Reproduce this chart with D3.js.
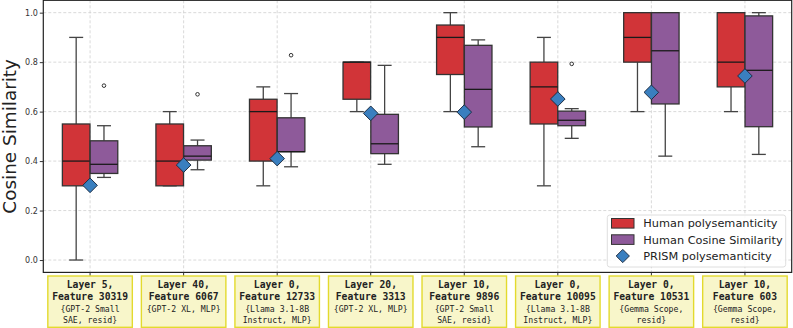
<!DOCTYPE html>
<html><head><meta charset="utf-8">
<script src="https://cdn.jsdelivr.net/npm/d3@7"></script>
<style>body{margin:0;background:#fff}svg{display:block}</style>
</head><body>
<svg id="c" width="793" height="328"></svg>
<script>
const line1 = ["Layer 5,","Layer 40,","Layer 0,","Layer 20,","Layer 10,","Layer 0,","Layer 0,","Layer 10,"];
const line2 = ["Feature 30319","Feature 6067","Feature 12733","Feature 3313","Feature 9896","Feature 10095","Feature 10531","Feature 603"];
const line3 = ["{GPT-2 Small","{GPT-2 XL, MLP}","{Llama 3.1-8B","{GPT-2 XL, MLP}","{GPT-2 Small","{Llama 3.1-8B","{Gemma Scope,","{Gemma Scope,"];
const line4 = ["SAE, resid}","","Instruct, MLP}","","SAE, resid}","Instruct, MLP}","resid}","resid}"];

const humanLow  = [0.00,0.30,0.30,0.60,0.60,0.30,0.60,0.60];
const humanQ1   = [0.30,0.30,0.40,0.65,0.75,0.55,0.80,0.70];
const humanMed  = [0.40,0.40,0.60,0.80,0.90,0.70,0.90,0.80];
const humanQ3   = [0.55,0.55,0.65,0.80,0.95,0.80,1.00,1.00];
const humanHigh = [0.90,0.60,0.70,0.80,1.00,0.90,1.00,1.00];
const humanOut  = [[],[],[],[],[],[],[],[]];

const cosLow  = [0.334,0.365,0.377,0.387,0.458,0.492,0.420,0.427];
const cosQ1   = [0.350,0.404,0.438,0.430,0.538,0.543,0.631,0.539];
const cosMed  = [0.387,0.420,0.438,0.470,0.690,0.565,0.846,0.767];
const cosQ3   = [0.482,0.462,0.575,0.589,0.868,0.602,1.000,0.987];
const cosHigh = [0.543,0.485,0.673,0.787,0.890,0.612,1.000,1.000];
const cosOut  = [[0.705],[0.670],[0.828],[],[],[0.793],[],[]];

const prism = [0.302,0.384,0.410,0.593,0.598,0.651,0.678,0.744];

const yTicks = [0.0,0.2,0.4,0.6,0.8,1.0];
const legendLabels = ["Human polysemanticity","Human Cosine Similarity","PRISM polysemanticity"];
const colors = {human:"#d13438", cos:"#8e5a9a", prism:"#3a7fbf"};

const svg = d3.select("#c");
const L = 43.3, R = 791.7, T = 0.3, B = 272.4;
const x = d3.scaleLinear().domain([-0.5, 7.5]).range([L, R]);
const y = d3.scaleLinear().domain([-0.05, 1.05]).range([B, T]);
const idx = d3.range(line1.length);
const bw = 27.6, off = 13.9, capW = 14;

// grid
const g = svg.append("g");
g.selectAll(".gy").data(yTicks).join("line")
  .attr("x1",L).attr("x2",R).attr("y1",d=>y(d)).attr("y2",d=>y(d))
  .attr("stroke","#cfcfcf").attr("stroke-width",0.8).attr("stroke-dasharray","3,2");
g.selectAll(".gx").data(idx).join("line")
  .attr("x1",d=>x(d)).attr("x2",d=>x(d)).attr("y1",T).attr("y2",B)
  .attr("stroke","#cfcfcf").attr("stroke-width",0.8).attr("stroke-dasharray","3,2");

function drawBoxes(cx, low, q1, med, q3, high, outs, fill){
  const bg = svg.append("g");
  idx.forEach(i=>{
    const c = cx(i);
    // whiskers
    bg.append("line").attr("x1",c).attr("x2",c).attr("y1",y(q3[i])).attr("y2",y(high[i]))
      .attr("stroke","#444").attr("stroke-width",1.3);
    bg.append("line").attr("x1",c).attr("x2",c).attr("y1",y(q1[i])).attr("y2",y(low[i]))
      .attr("stroke","#444").attr("stroke-width",1.3);
    bg.append("line").attr("x1",c-capW/2).attr("x2",c+capW/2).attr("y1",y(high[i])).attr("y2",y(high[i]))
      .attr("stroke","#444").attr("stroke-width",1.3);
    bg.append("line").attr("x1",c-capW/2).attr("x2",c+capW/2).attr("y1",y(low[i])).attr("y2",y(low[i]))
      .attr("stroke","#444").attr("stroke-width",1.3);
    bg.append("rect").attr("x",c-bw/2).attr("width",bw)
      .attr("y",y(q3[i])).attr("height",Math.max(0.01,y(q1[i])-y(q3[i])))
      .attr("fill",fill).attr("stroke","#333").attr("stroke-width",1.3);
    bg.append("line").attr("x1",c-bw/2).attr("x2",c+bw/2).attr("y1",y(med[i])).attr("y2",y(med[i]))
      .attr("stroke","#1a1a1a").attr("stroke-width",1.3);
    outs[i].forEach(o=>{
      bg.append("circle").attr("cx",c).attr("cy",y(o)).attr("r",1.8)
        .attr("fill","none").attr("stroke","#333").attr("stroke-width",1);
    });
  });
}
drawBoxes(i=>x(i)-off, humanLow, humanQ1, humanMed, humanQ3, humanHigh, humanOut, colors.human);
drawBoxes(i=>x(i)+off, cosLow, cosQ1, cosMed, cosQ3, cosHigh, cosOut, colors.cos);

// diamonds
const dS = 7.3;
svg.append("g").selectAll("path").data(idx).join("path")
  .attr("d",i=>{const cx=x(i), cy=y(prism[i]); return `M${cx},${cy-dS}L${cx+dS},${cy}L${cx},${cy+dS}L${cx-dS},${cy}Z`;})
  .attr("fill",colors.prism).attr("stroke","#1f2f45").attr("stroke-width",1);

// frame
svg.append("rect").attr("x",L).attr("y",T).attr("width",R-L).attr("height",B-T)
  .attr("fill","none").attr("stroke","#222").attr("stroke-width",1.2);

// y axis
const ya = svg.append("g").attr("transform",`translate(${L},0)`)
  .call(d3.axisLeft(y).tickValues(yTicks).tickFormat(d3.format(".1f")).tickSize(3.5).tickPadding(2));
ya.select(".domain").remove();
ya.selectAll("text").attr("font-family","DejaVu Sans").attr("font-size",8).attr("fill","#333");
ya.selectAll("line").attr("stroke","#333");

// x ticks
svg.append("g").selectAll("line").data(idx).join("line")
  .attr("x1",d=>x(d)).attr("x2",d=>x(d)).attr("y1",B).attr("y2",B+3.5).attr("stroke","#333");

// y label
svg.append("text").attr("transform",`translate(15.5,${(T+B)/2}) rotate(-90)`)
  .attr("text-anchor","middle").attr("font-family","DejaVu Sans").attr("font-size",18.4)
  .attr("fill","#222").text("Cosine Similarity");

// category label boxes
const lb = svg.append("g");
const boxW = 84.5;
idx.forEach(i=>{
  const c = x(i);
  lb.append("rect").attr("x",c-boxW/2).attr("y",276).attr("width",boxW).attr("height",51.3)
    .attr("fill","#f8f6ca").attr("stroke","#e3da2e").attr("stroke-width",1.4);
  const t = (txt, cy, bold, size)=> lb.append("text").attr("x",c).attr("y",cy).attr("dy","0.35em")
    .attr("text-anchor","middle").attr("font-family","DejaVu Sans Mono")
    .attr("font-weight",bold?"bold":"normal").attr("font-size",size).attr("fill","#222").text(txt);
  t(line1[i], 284.3, true, 9.7);
  t(line2[i], 296.7, true, 9.7);
  t(line3[i], 308.8, false, 8.2);
  if (line4[i]) t(line4[i], 320, false, 8.2);
});

// legend
const lg = svg.append("g");
lg.append("rect").attr("x",607.3).attr("y",215).attr("width",178.4).attr("height",52)
  .attr("rx",2.5).attr("fill","#fff").attr("fill-opacity",0.85).attr("stroke","#d5d5d5").attr("stroke-width",0.8);
const rowY = [223.3, 239.6, 256];
[colors.human, colors.cos].forEach((c,k)=>{
  lg.append("rect").attr("x",611.5).attr("y",rowY[k]-4.8).attr("width",22.5).attr("height",9.6)
    .attr("fill",c).attr("stroke","#333").attr("stroke-width",1);
});
{
  const cx=622.8, cy=rowY[2], s=6.6;
  lg.append("path").attr("d",`M${cx},${cy-s}L${cx+s},${cy}L${cx},${cy+s}L${cx-s},${cy}Z`)
    .attr("fill",colors.prism).attr("stroke","#1f2f45").attr("stroke-width",1);
}
legendLabels.forEach((t,k)=>{
  lg.append("text").attr("x",643.3).attr("y",rowY[k]).attr("dy","0.35em")
    .attr("font-family","DejaVu Sans").attr("font-size",11.3).attr("fill","#222").text(t);
});
</script>
</body></html>
